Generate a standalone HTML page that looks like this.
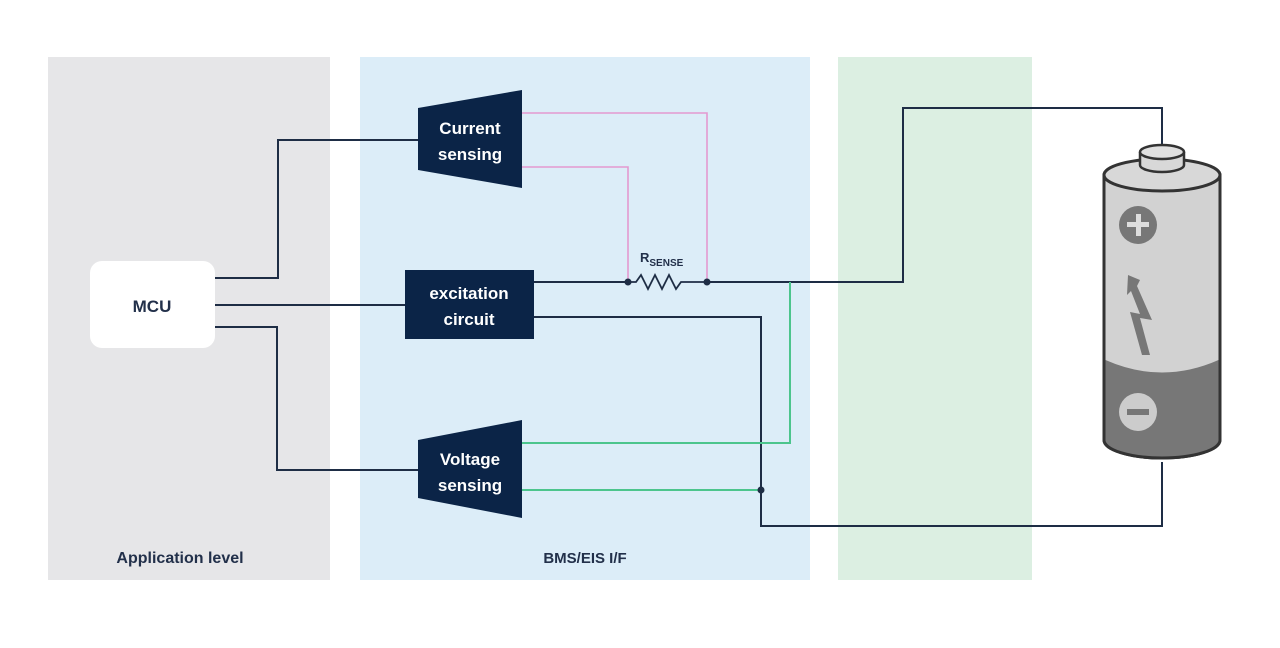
<!DOCTYPE html>
<html><head><meta charset="utf-8"><style>
html,body{margin:0;padding:0;background:#fff;}
svg{display:block;}
text{font-family:"Liberation Sans",Arial,sans-serif;font-weight:bold;}
</style></head><body>
<svg width="1280" height="648" viewBox="0 0 1280 648" xmlns="http://www.w3.org/2000/svg">
<rect width="1280" height="648" fill="#fff"/>
<rect x="48" y="57" width="282" height="523" fill="#e6e6e8"/>
<rect x="360" y="57" width="450" height="523" fill="#dcedf8"/>
<rect x="838" y="57" width="194" height="523" fill="#dcefe2"/>
<rect x="90" y="261" width="125" height="87" rx="12" fill="#fff"/>
<text x="152" y="312" font-size="17" fill="#22304a" text-anchor="middle">MCU</text>
<g fill="none" stroke="#1e2d45" stroke-width="2">
<polyline points="215,278 278,278 278,140 418,140"/>
<polyline points="215,305 405,305"/>
<polyline points="215,327 277,327 277,470 418,470"/>
<polyline points="534,282 628,282"/>
<polyline points="707,282 903,282 903,108 1162,108 1162,145"/>
<polyline points="534,317 761,317 761,526 1162,526 1162,462"/>
<polyline points="628,282 636,282 641,275 648,289 655,275 662,289 669,275 676,289 681,282 707,282" stroke-width="1.8"/>
</g>
<g fill="none" stroke="#e39ad0" stroke-width="1.6">
<polyline points="522,113 707,113 707,282"/>
<polyline points="522,167 628,167 628,282"/>
</g>
<g fill="none" stroke="#4cc58d" stroke-width="2">
<polyline points="522,443 790,443 790,282"/>
<polyline points="522,490 761,490"/>
</g>
<circle cx="628" cy="282" r="3.5" fill="#1e2d45"/>
<circle cx="707" cy="282" r="3.5" fill="#1e2d45"/>
<circle cx="761" cy="490" r="3.5" fill="#1e2d45"/>
<text x="640" y="262" font-size="13" fill="#22304a">R<tspan font-size="10" dy="4">SENSE</tspan></text>
<polygon points="418,108 522,90 522,188 418,170" fill="#0b2447"/>
<text x="470" y="134" font-size="17" fill="#fff" text-anchor="middle">Current</text>
<text x="470" y="160" font-size="17" fill="#fff" text-anchor="middle">sensing</text>
<rect x="405" y="270" width="129" height="69" fill="#0b2447"/>
<text x="469" y="299" font-size="17" fill="#fff" text-anchor="middle">excitation</text>
<text x="469" y="325" font-size="17" fill="#fff" text-anchor="middle">circuit</text>
<polygon points="418,440 522,420 522,518 418,498" fill="#0b2447"/>
<text x="470" y="465" font-size="17" fill="#fff" text-anchor="middle">Voltage</text>
<text x="470" y="491" font-size="17" fill="#fff" text-anchor="middle">sensing</text>
<text x="180" y="563" font-size="16" fill="#22304a" text-anchor="middle">Application level</text>
<text x="585" y="563" font-size="15" fill="#22304a" text-anchor="middle">BMS/EIS I/F</text>
<!-- battery -->
<g stroke="#333" stroke-width="3">
<path d="M1104,175 L1104,440 A58,18 0 0 0 1220,440 L1220,175 Z" fill="#d2d2d2"/>
<path d="M1105.5,360 Q1162,385 1218.5,360 L1218.5,440 A56.5,17 0 0 1 1105.5,440 Z" fill="#777" stroke="none"/>
<path d="M1104,175 L1104,440 A58,18 0 0 0 1220,440 L1220,175" fill="none"/>
<ellipse cx="1162" cy="175" rx="58" ry="16" fill="#d8d8d8"/>
<path d="M1140,152 L1140,165 A22,7 0 0 0 1184,165 L1184,152" fill="#d8d8d8" stroke-width="2.5"/>
<ellipse cx="1162" cy="152" rx="22" ry="7" fill="#e0e0e0" stroke-width="2.5"/>
</g>
<circle cx="1138" cy="225" r="19" fill="#777"/>
<rect x="1136" y="214" width="5" height="22" fill="#ddd"/>
<rect x="1127" y="222" width="22" height="5" fill="#ddd"/>
<circle cx="1138" cy="412" r="19" fill="#ccc"/>
<rect x="1127" y="409" width="22" height="6" fill="#777"/>
<polygon points="1128,275 1140,280 1137,286 1152,320 1140,318 1150,355 1142,355 1130,312 1140,314 1131,291 1127,295" fill="#777"/>
</svg>
</body></html>
